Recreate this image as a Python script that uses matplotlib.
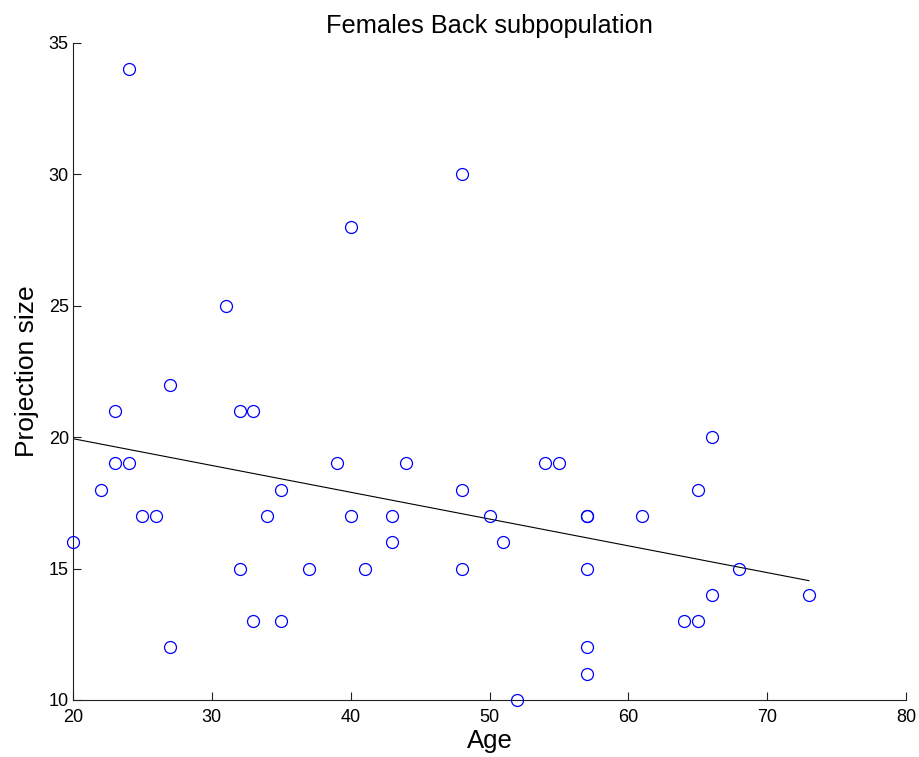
import matplotlib
matplotlib.use("Agg")
import matplotlib.pyplot as plt
import numpy as np

plt.rcParams['font.family'] = ['Liberation Sans', 'DejaVu Sans']

age = [20, 22, 23, 23, 24, 24, 25, 26, 27, 27, 31, 32, 32, 33, 33, 34, 35, 35, 37,
       39, 40, 40, 41, 43, 43, 44, 48, 48, 48, 50, 51, 52, 54, 55, 57, 57, 57, 57,
       57, 61, 64, 65, 65, 66, 66, 68, 73]
proj = [16, 18, 21, 19, 19, 34, 17, 17, 22, 12, 25, 21, 15, 21, 13, 17, 18, 13, 15,
        19, 28, 17, 15, 17, 16, 19, 30, 18, 15, 17, 16, 10, 19, 19, 17, 17, 15, 12,
        11, 17, 13, 18, 13, 20, 14, 15, 14]

x_ticks = [20, 30, 40, 50, 60, 70, 80]
y_ticks = [10, 15, 20, 25, 30, 35]

fig = plt.figure(figsize=(9.19, 7.57), dpi=100)
ax = fig.add_axes([0.0794, 0.0753, 0.9065, 0.8679])

ax.plot(age, proj, linestyle='none', marker='o', markersize=8.6,
        markerfacecolor='none', markeredgecolor='#0000ff', markeredgewidth=0.9,
        clip_on=False, zorder=3)

coef = np.polyfit(age, proj, 1)
xf = np.array([min(age), max(age)])
ax.plot(xf, np.polyval(coef, xf), color='black', linewidth=0.8, zorder=2)

ax.set_xlim(20, 80)
ax.set_ylim(10, 35)
ax.set_xticks(x_ticks)
ax.set_yticks(y_ticks)
ax.spines['top'].set_visible(False)
ax.spines['right'].set_visible(False)
for s in ('left', 'bottom'):
    ax.spines[s].set_color('#222222')
    ax.spines[s].set_linewidth(0.8)
ax.tick_params(direction='in', length=6, width=0.8, labelsize=13, colors='#222222',
               labelcolor='black')
ax.tick_params(axis='y', pad=3)
ax.tick_params(axis='x', pad=6.5)
ax.set_xlabel('Age', fontsize=18.5, labelpad=2)
ax.set_ylabel('Projection size', fontsize=19, labelpad=7)
ax.set_title('Females Back subpopulation', fontsize=18.3, pad=7)

fig.savefig('out.png', dpi=100)
